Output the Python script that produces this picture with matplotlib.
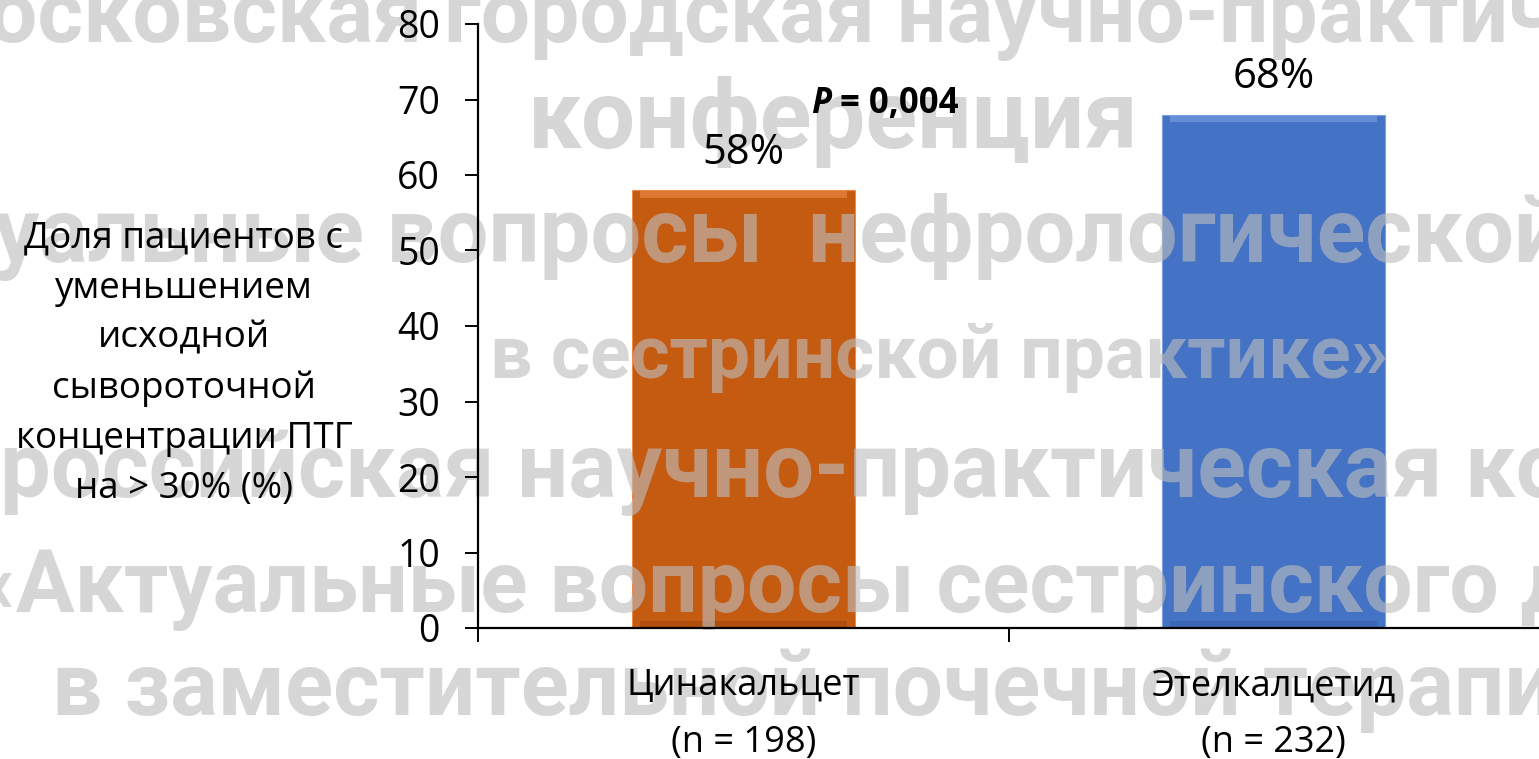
import matplotlib
matplotlib.use("Agg")
import matplotlib.pyplot as plt

# ---- data ----
categories = ["Цинакальцет\n(n = 198)", "Этелкалцетид\n(n = 232)"]
values = [58, 68]
bar_colors = ["#C55A11", "#4472C4"]
highlight_colors = ["#EE8A45", "#7AA0E2"]
shade_colors = ["#8A3C08", "#2F5597"]
y_ticks = [0, 10, 20, 30, 40, 50, 60, 70, 80]
y_label = "Доля пациентов с\nуменьшением\nисходной\nсывороточной\nконцентрации ПТГ\nна > 30% (%)"
p_label_a = "P"
p_label_b = " = 0,004"

# watermark: text, left px, baseline px, font size
watermark_lines = [
    ("осковская городская научно-практическая", -12, 42, 63),
    ("конференция", 528, 148, 69),
    ("уальные вопросы  нефрологической", -6, 262, 65),
    ("в сестринской практике»", 490, 378, 54),
    ("российская научно-практическая конференция", 0, 497, 65),
    ("«Актуальные вопросы сестринского дела", -28, 612, 63),
    ("в заместительной почечной терапии", 52, 715, 64),
]

W, H = 1539, 759
plt.rcParams['font.family'] = ['Open Sans', 'DejaVu Sans']
fig = plt.figure(figsize=(W / 100, H / 100), dpi=100)
ax = fig.add_axes([478 / W, 1 - 628 / H, 1 - 478 / W, (628 - 24) / H])
ax.set_axisbelow(False)  # axis (ticks/labels) at zorder 2.5

x = list(range(len(values)))
bw = 0.42
ax.bar(x, values, width=bw, color=bar_colors, edgecolor=highlight_colors, linewidth=0.8, zorder=2.0)
# bevel: light band at top, darker band at base
ax.bar(x, [0.9] * len(values), bottom=[v - 1.0 for v in values], width=bw * 0.93,
       color=highlight_colors, alpha=0.6, linewidth=0, zorder=2.05)
ax.bar(x, [0.9] * len(values), bottom=0, width=bw * 0.93,
       color=shade_colors, alpha=0.35, linewidth=0, zorder=2.05)

# watermark: above bars, below labels
for txt, xl, yb, fs in watermark_lines:
    ax.text(xl / W, 1 - yb / H, txt, transform=fig.transFigure, clip_on=False,
            fontsize=fs, fontweight="bold", family=["Roboto", "DejaVu Sans"],
            color=(0.74, 0.74, 0.74), alpha=0.62, ha="left", va="baseline", zorder=2.2)

for xi, v in zip(x, values):
    ax.annotate(f"{v}%", (xi, v), xytext=(0, 27), textcoords="offset points",
                ha="center", va="center", fontsize=30, color="black", zorder=5)

ax.text(0.165, 69.4, p_label_a, fontsize=25, fontweight="bold", fontstyle="italic",
        ha="right", va="center", zorder=5)
ax.text(0.165, 69.4, p_label_b, fontsize=25, fontweight="bold",
        ha="left", va="center", zorder=5)

ax.set_xlim(-0.5, 1.5)
ax.set_ylim(0, 80)
ax.set_yticks(y_ticks)
ax.tick_params(axis="y", labelsize=27, length=9.4, width=1.4, pad=18, direction="out")
ax.set_xticks(x)
ax.set_xticklabels(categories, fontsize=26, linespacing=1.75)
ax.tick_params(axis="x", which="major", length=0, pad=29)
ax.set_xticks([-0.5, 0.5], minor=True)
ax.tick_params(axis="x", which="minor", length=10, width=1.4, direction="out")

for s in ["top", "right"]:
    ax.spines[s].set_visible(False)
for s in ["left", "bottom"]:
    ax.spines[s].set_linewidth(1.6)
    ax.spines[s].set_zorder(2.5)

fig.text(184 / W, 1 - 364 / H, y_label, fontsize=26.5, ha="center", va="center",
         multialignment="center", linespacing=1.52)

fig.savefig("out.png", dpi=100)
